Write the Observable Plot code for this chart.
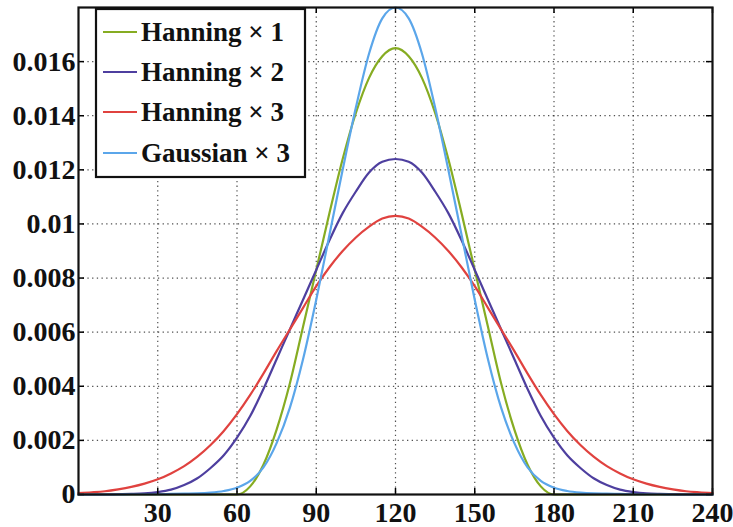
<!DOCTYPE html>
<html><head><meta charset="utf-8">
<script src="https://cdn.jsdelivr.net/npm/d3@7"></script>
<script src="https://cdn.jsdelivr.net/npm/@observablehq/plot@0.6"></script>
<style>body{margin:0;background:#fff} #chart{width:733px;height:527px}</style>
</head><body><div id="chart"></div>
<script>
const xs = [0,5,10,15,20,25,30,35,40,45,50,55,60,65,70,75,80,85,90,95,100,105,110,115,120,
  125,130,135,140,145,150,155,160,165,170,175,180,185,190,195,200,205,210,215,220,225,230,235,240];
const hanning1 = [0,0,0,0,0,0,0,0,0,0,0,0,0,0.0003,0.0011,0.0024,0.0041,0.0062,0.0083,0.0104,0.0124,0.0141,0.0154,0.0162,0.0165,
  0.0162,0.0154,0.0141,0.0124,0.0104,0.0083,0.0062,0.0041,0.0024,0.0011,0.0003,0,0,0,0,0,0,0,0,0,0,0,0,0];
const hanning2 = [0,0,0,0.00001,0.00002,0.00004,0.00009,0.00018,0.00035,0.0006,0.00098,0.00145,0.0021,0.0029,0.0039,0.0050,0.0061,0.0072,0.0083,0.0094,0.0104,0.0112,0.0119,0.0123,0.0124,
  0.0123,0.0119,0.0112,0.0104,0.0094,0.0083,0.0072,0.0061,0.0050,0.0039,0.0029,0.0021,0.00145,0.00098,0.0006,0.00035,0.00018,0.00009,0.00004,0.00002,0.00001,0,0,0];
const hanning3 = [0.00005,0.00008,0.00012,0.00019,0.00028,0.0004,0.00056,0.00078,0.00105,0.0014,0.00183,0.00235,0.00297,0.00368,0.00447,0.0053,0.0061,0.0069,0.0077,0.0084,0.0090,0.0095,0.0099,0.0102,0.0103,
  0.0102,0.0099,0.0095,0.0090,0.0084,0.0077,0.0069,0.0061,0.0053,0.00447,0.00368,0.00297,0.00235,0.00183,0.0014,0.00105,0.00078,0.00056,0.0004,0.00028,0.00019,0.00012,0.00008,0.00005];
const gaussian3 = [0,0,0,0,0.00001,0.00001,0.00001,0.00002,0.00003,0.00004,0.00007,0.00013,0.00025,0.0005,0.0010,0.0019,0.0032,0.0050,0.0072,0.0096,0.0120,0.0143,0.0163,0.0176,0.0180,
  0.0176,0.0163,0.0143,0.0120,0.0096,0.0072,0.0050,0.0032,0.0019,0.0010,0.0005,0.00025,0.00013,0.00007,0.00004,0.00003,0.00002,0.00001,0.00001,0.00001,0,0,0,0];
const seriesNames = ["Hanning \u00d7 1", "Hanning \u00d7 2", "Hanning \u00d7 3", "Gaussian \u00d7 3"];
const seriesColors = ["#86AC22", "#4E3F9F", "#E0423F", "#5BA6EA"];
const xTicks = [30,60,90,120,150,180,210,240];
const yTicks = [0,0.002,0.004,0.006,0.008,0.01,0.012,0.014,0.016];
const xGrid = [30,60,90,120,150,180,210];
const yGrid = [0.002,0.004,0.006,0.008,0.01,0.012,0.014,0.016];

const seriesValues = [hanning1, hanning2, hanning3, gaussian3];
const rows = [];
seriesValues.forEach((vals, i) => vals.forEach((v, j) => rows.push({x: xs[j], y: v, s: seriesNames[i]})));

const W = 733, H = 527, mL = 78, mR = 21, mT = 7, mB = 33;
const innerW = W - mL - mR, innerH = H - mT - mB;
const font = "'Liberation Serif', 'Times New Roman', serif";

const plot = Plot.plot({
  width: W, height: H,
  marginLeft: mL, marginRight: mR, marginTop: mT, marginBottom: mB,
  style: {fontFamily: font, fontWeight: "bold", background: "#fff", color: "#111", overflow: "visible"},
  x: {domain: [0, 240], label: null},
  y: {domain: [0, 0.018], label: null},
  color: {domain: seriesNames, range: seriesColors},
  marks: [
    Plot.gridX(xGrid, {stroke: "#333", strokeOpacity: 0.85, strokeWidth: 1.2, strokeDasharray: "1.3,3.4"}),
    Plot.gridY(yGrid, {stroke: "#333", strokeOpacity: 0.85, strokeWidth: 1.2, strokeDasharray: "1.3,3.4"}),
    Plot.line(rows, {x: "x", y: "y", z: "s", stroke: "s", strokeWidth: 2.2, curve: "monotone-x"}),
    Plot.tickY(yTicks, {y: d => d, insetRight: innerW - 6, stroke: "#000", strokeWidth: 1.5}),
    Plot.tickY(yTicks, {y: d => d, insetLeft: innerW - 6, stroke: "#000", strokeWidth: 1.5}),
    Plot.tickX(xTicks, {x: d => d, insetTop: innerH - 6, stroke: "#000", strokeWidth: 1.5}),
    Plot.tickX(xTicks, {x: d => d, insetBottom: innerH - 6, stroke: "#000", strokeWidth: 1.5}),
    Plot.frame({stroke: "#111", strokeWidth: 2.2}),
    Plot.axisY(yTicks, {tickSize: 0, tickPadding: 3, fontSize: 28, fontWeight: "bold", label: null, tickFormat: d => String(d)}),
    Plot.axisX(xTicks, {tickSize: 0, tickPadding: 8, fontSize: 28, fontWeight: "bold", label: null, tickFormat: d => String(d)})
  ]
});

// Legend box (layout only; labels and colours come from the series arrays)
const svg = d3.select(plot);
const lg = svg.append("g").attr("font-family", font).attr("font-weight", "bold")
  .attr("font-size", 27).attr("text-anchor", "start");
lg.append("rect").attr("x", 96).attr("y", 9).attr("width", 209).attr("height", 168)
  .attr("fill", "#fff").attr("stroke", "#111").attr("stroke-width", 2.2);
const rowY = [32, 72, 112, 153];
seriesNames.forEach((name, i) => {
  lg.append("line").attr("x1", 103).attr("x2", 137).attr("y1", rowY[i]).attr("y2", rowY[i])
    .attr("stroke", seriesColors[i]).attr("stroke-width", 2);
  lg.append("text").attr("x", 141).attr("y", rowY[i] + 9).attr("fill", "#111")
    .attr("text-anchor", "start").text(name);
});

document.getElementById("chart").appendChild(plot);
</script>
</body></html>
